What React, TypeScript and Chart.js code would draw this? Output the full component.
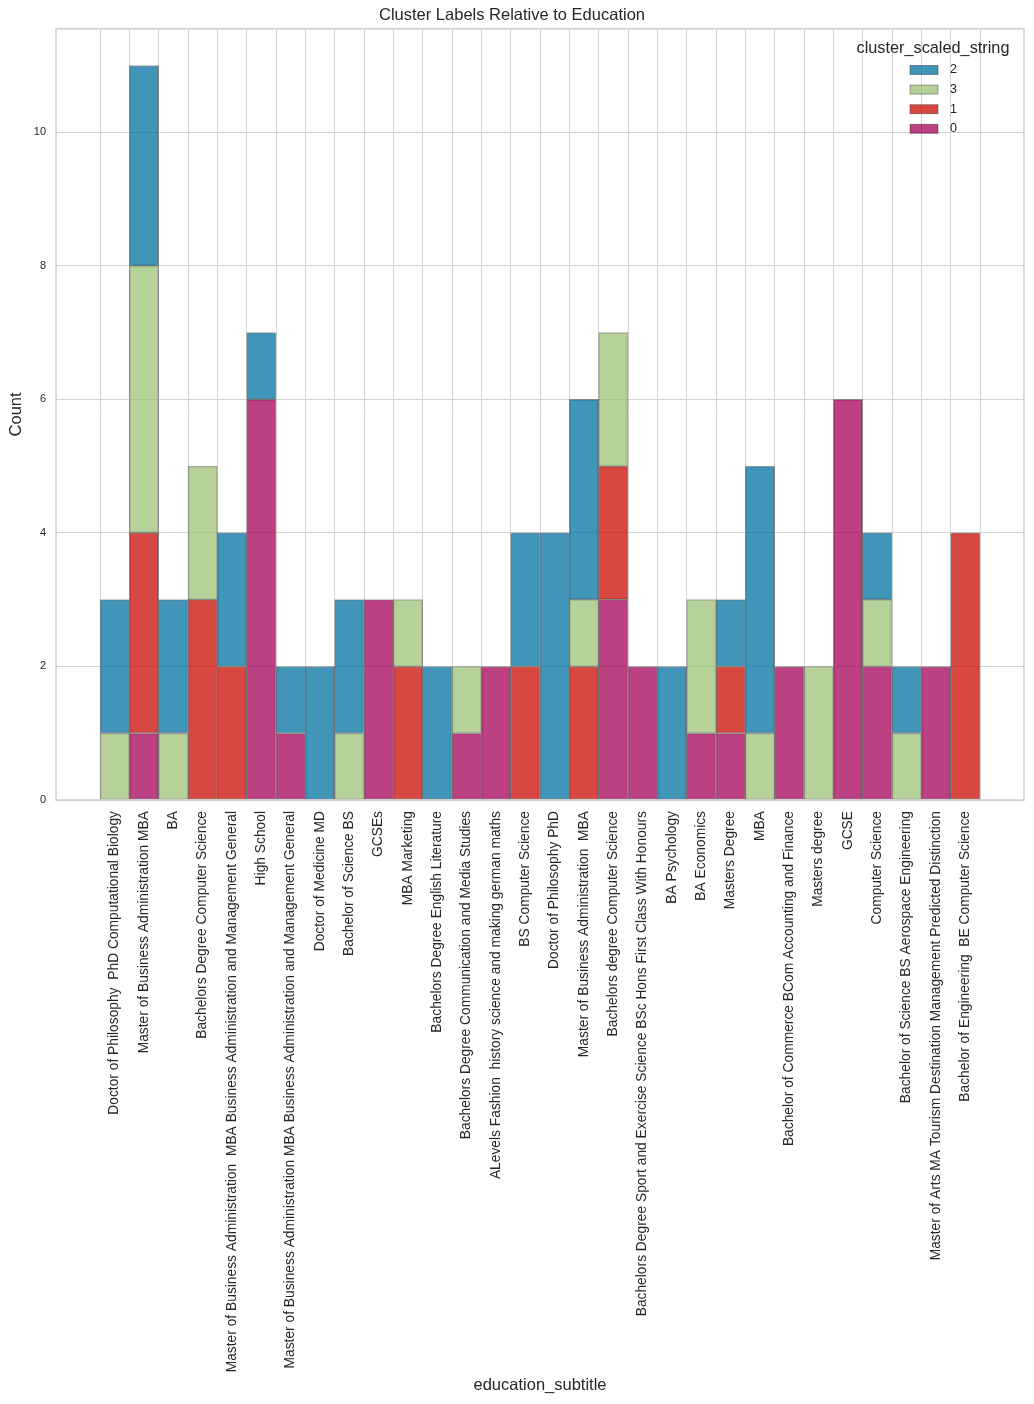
import React, { useEffect, useRef } from "react";
import { Chart, registerables } from "chart.js";

Chart.register(...registerables);

const categories: string[] = [
  "Doctor of Philosophy  PhD Computational Biology",
  "Master of Business Administration MBA",
  "BA",
  "Bachelors Degree Computer Science",
  "Master of Business Administration  MBA Business Administration and Management General",
  "High School",
  "Master of Business Administration MBA Business Administration and Management General",
  "Doctor of Medicine MD",
  "Bachelor of Science BS",
  "GCSEs",
  "MBA Marketing",
  "Bachelors Degree English Literature",
  "Bachelors Degree Communication and Media Studies",
  "ALevels Fashion  history science and making german maths",
  "BS Computer Science",
  "Doctor of Philosophy PhD",
  "Master of Business Administration  MBA",
  "Bachelors degree Computer Science",
  "Bachelors Degree Sport and Exercise Science BSc Hons First Class With Honours",
  "BA Psychology",
  "BA Economics",
  "Masters Degree",
  "MBA",
  "Bachelor of Commerce BCom Accounting and Finance",
  "Masters degree",
  "GCSE",
  "Computer Science",
  "Bachelor of Science BS Aerospace Engineering",
  "Master of Arts MA Tourism Destination Management Predicted Distinction",
  "Bachelor of Engineering  BE Computer Science",
];

// counts per cluster, aligned with categories
const cluster0: number[] = [0, 1, 0, 0, 0, 6, 1, 0, 0, 3, 0, 0, 1, 2, 0, 0, 0, 3, 2, 0, 1, 1, 0, 2, 0, 6, 2, 0, 2, 0];
const cluster1: number[] = [0, 3, 0, 3, 2, 0, 0, 0, 0, 0, 2, 0, 0, 0, 2, 0, 2, 2, 0, 0, 0, 1, 0, 0, 0, 0, 0, 0, 0, 4];
const cluster3: number[] = [1, 4, 1, 2, 0, 0, 0, 0, 1, 0, 1, 0, 1, 0, 0, 0, 1, 2, 0, 0, 2, 0, 1, 0, 2, 0, 1, 1, 0, 0];
const cluster2: number[] = [2, 3, 2, 0, 2, 1, 1, 2, 2, 0, 0, 2, 0, 0, 2, 4, 3, 0, 0, 2, 0, 1, 4, 0, 0, 0, 1, 1, 0, 0];

const yTicks: number[] = [0, 2, 4, 6, 8, 10];
const legendOrder: string[] = ["2", "3", "1", "0"];

const FONT = "'Liberation Sans', Arial, sans-serif";
const TEXT = "#262626";
const GRID = "#d3d3d3";

const COLORS: Record<string, string> = {
  "2": "rgba(2,114,162,0.75)",
  "3": "rgba(159,195,119,0.75)",
  "1": "rgba(202,11,3,0.75)",
  "0": "rgba(165,2,88,0.75)",
};
const EDGE = "rgba(0,0,0,0.35)";

const framePlugin = {
  id: "frame",
  afterDraw(chart: any) {
    const { ctx, chartArea } = chart;
    ctx.save();
    ctx.strokeStyle = "#cccccc";
    ctx.lineWidth = 1.5;
    ctx.strokeRect(chartArea.left, chartArea.top, chartArea.right - chartArea.left, chartArea.bottom - chartArea.top);
    // legend
    const cx = 933;
    ctx.fillStyle = TEXT;
    ctx.font = `16.3px ${FONT}`;
    ctx.textAlign = "center";
    ctx.textBaseline = "middle";
    ctx.fillText("cluster_scaled_string", cx, 49);
    ctx.font = `12.5px ${FONT}`;
    ctx.textAlign = "left";
    legendOrder.forEach((k, i) => {
      const y = 70 + i * 19.6;
      ctx.fillStyle = COLORS[k];
      ctx.fillRect(910, y - 4.5, 28, 9);
      ctx.strokeStyle = EDGE;
      ctx.lineWidth = 1;
      ctx.strokeRect(910, y - 4.5, 28, 9);
      ctx.fillStyle = TEXT;
      ctx.fillText(k, 950, y);
    });
    ctx.restore();
  },
};

function toPoints(arr: number[]) {
  return arr.map((v, i) => ({ x: i, y: v }));
}

export default function App() {
  const ref = useRef<HTMLCanvasElement | null>(null);
  useEffect(() => {
    document.body.style.margin = "0";
    if (!ref.current) return;
    const mk = (key: string, arr: number[]) => ({
      label: key,
      data: toPoints(arr),
      backgroundColor: COLORS[key],
      borderColor: EDGE,
      borderWidth: 1,
      borderSkipped: false,
      barPercentage: 1,
      categoryPercentage: 1,
    });
    const chart = new Chart(ref.current, {
      type: "bar",
      data: {
        datasets: [mk("0", cluster0), mk("1", cluster1), mk("3", cluster3), mk("2", cluster2)] as any,
      },
      plugins: [framePlugin],
      options: {
        animation: false,
        responsive: false,
        maintainAspectRatio: false,
        layout: { padding: { left: 0, right: 10, top: 0, bottom: 0 } },
        plugins: {
          legend: { display: false },
          tooltip: { enabled: false },
          title: {
            display: true,
            text: "Cluster Labels Relative to Education",
            color: TEXT,
            font: { family: FONT, size: 16.5, weight: "normal" },
            padding: { top: 6, bottom: 3 },
          },
        },
        scales: {
          x: {
            type: "linear",
            min: -2,
            max: 31,
            offset: false,
            stacked: true,
            afterBuildTicks(scale: any) {
              scale.ticks = categories.map((_, i) => ({ value: i }));
            },
            afterFit(scale: any) {
              scale.height = 604;
            },
            ticks: {
              autoSkip: false,
              minRotation: 90,
              maxRotation: 90,
              padding: 11,
              color: TEXT,
              font: { family: FONT, size: 13.8 },
              callback: (v: any) => categories[v as number] ?? "",
            },
            grid: { color: GRID, lineWidth: 1, drawTicks: false },
            border: { display: false },
            title: {
              display: true,
              text: "education_subtitle",
              color: TEXT,
              font: { family: FONT, size: 16.5 },
              padding: { top: 4, bottom: 9 },
            },
          },
          y: {
            type: "linear",
            min: 0,
            max: 11.55,
            stacked: true,
            afterBuildTicks(scale: any) {
              scale.ticks = yTicks.map((v) => ({ value: v }));
            },
            afterFit(scale: any) {
              scale.width = 56;
            },
            ticks: {
              padding: 10,
              color: TEXT,
              font: { family: FONT, size: 11 },
              callback: (v: any) => String(v),
            },
            grid: { color: GRID, lineWidth: 1, drawTicks: false },
            border: { display: false },
            title: {
              display: true,
              text: "Count",
              color: TEXT,
              font: { family: FONT, size: 16.5 },
              padding: { top: 7, bottom: 4 },
            },
          },
        },
      } as any,
    });
    return () => chart.destroy();
  }, []);
  return (
    <div style={{ width: 1034, height: 1404, background: "#fff" }}>
      <canvas ref={ref} width={1034} height={1404} style={{ display: "block", width: 1034, height: 1404 }} />
    </div>
  );
}
